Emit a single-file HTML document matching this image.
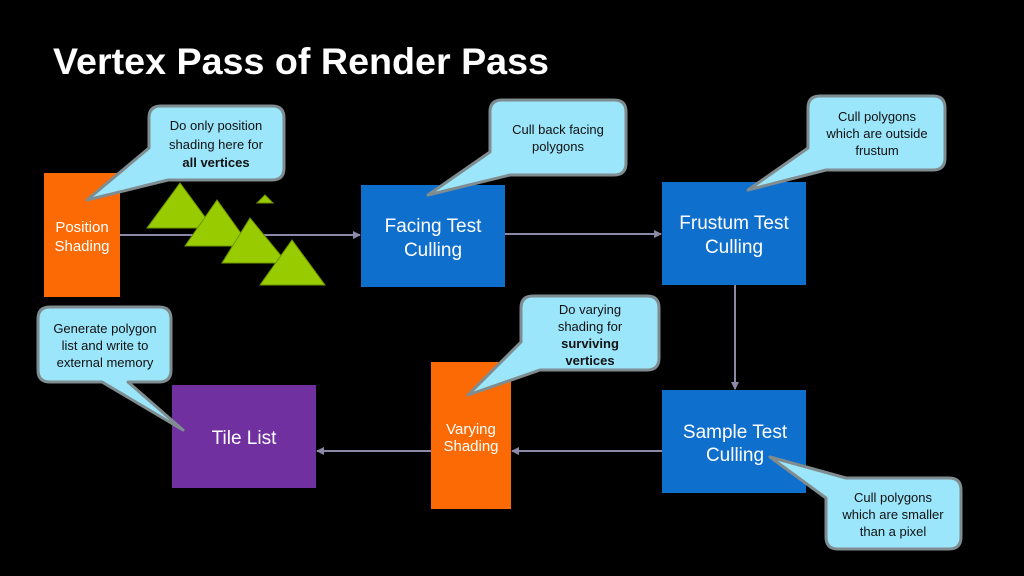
<!DOCTYPE html>
<html><head><meta charset="utf-8"><style>
body{margin:0;background:#000;}
svg{display:block}
text{font-family:"Liberation Sans",sans-serif;}
</style></head><body>
<svg width="1024" height="576" viewBox="0 0 1024 576" xmlns="http://www.w3.org/2000/svg">
<defs>
<marker id="a" markerWidth="8" markerHeight="8" refX="7" refY="4" orient="auto" markerUnits="userSpaceOnUse"><path d="M0,0 L8,4 L0,8 Z" fill="#8a8aa8"/></marker>
</defs>
<rect width="1024" height="576" fill="#000"/>
<text x="53" y="74" font-size="37" font-weight="bold" fill="#fff" textLength="496" lengthAdjust="spacingAndGlyphs">Vertex Pass of Render Pass</text>

<g stroke="#8a8aa8" stroke-width="2" fill="none" marker-end="url(#a)">
<line x1="120" y1="235" x2="360" y2="235"/>
<line x1="505" y1="234" x2="661" y2="234"/>
<line x1="735" y1="285" x2="735" y2="389"/>
<line x1="662" y1="451" x2="512" y2="451"/>
<line x1="431" y1="451" x2="317" y2="451"/>
</g>

<rect x="44" y="173" width="76" height="124" fill="#fb6a04"/>
<text fill="#fff" font-size="15" text-anchor="middle"><tspan x="82" y="232">Position</tspan><tspan x="82" y="251">Shading</tspan></text>

<rect x="361" y="185" width="144" height="102" fill="#0f6fcc"/>
<text fill="#fff" font-size="19" text-anchor="middle"><tspan x="433" y="232">Facing Test</tspan><tspan x="433" y="256">Culling</tspan></text>

<rect x="662" y="182" width="144" height="103" fill="#0f6fcc"/>
<text fill="#fff" font-size="19" text-anchor="middle"><tspan x="734" y="229">Frustum Test</tspan><tspan x="734" y="253">Culling</tspan></text>

<rect x="662" y="390" width="144" height="103" fill="#0f6fcc"/>
<text fill="#fff" font-size="19" text-anchor="middle"><tspan x="735" y="438">Sample Test</tspan><tspan x="735" y="461">Culling</tspan></text>

<rect x="431" y="362" width="80" height="147" fill="#fb6a04"/>
<text fill="#fff" font-size="15" text-anchor="middle"><tspan x="471" y="434">Varying</tspan><tspan x="471" y="451">Shading</tspan></text>

<rect x="172" y="385" width="144" height="103" fill="#7030a0"/>
<text x="244" y="444" fill="#fff" font-size="19" text-anchor="middle">Tile List</text>

<g fill="#99cc00" stroke="#6f9400" stroke-width="1">
<polygon points="180,183 147,228 213,228"/>
<polygon points="217,200 185,246 250,246"/>
<polygon points="250,218 222,263 287,263"/>
<polygon points="292,240 260,285 325,285"/>
<polygon points="265,195 257,203 273,203"/>
</g>

<g fill="#9be6fb" stroke="#7f8c90" stroke-width="3" stroke-linejoin="round">
<path d="M161,106 H272 Q284,106 284,118 V168 Q284,180 272,180 H168 L87,200 L149,148 V118 Q149,106 161,106 Z"/>
<path d="M502,100 H614 Q626,100 626,112 V163 Q626,175 614,175 H510 L428,195 L490,152 V112 Q490,100 502,100 Z"/>
<path d="M820,96 H933 Q945,96 945,108 V158 Q945,170 933,170 H826 L748,190 L808,148 V108 Q808,96 820,96 Z"/>
<path d="M770,457 L846,478 H949 Q961,478 961,490 V537 Q961,549 949,549 H838 Q826,549 826,537 V498 Z"/>
<path d="M533,296 H647 Q659,296 659,308 V358 Q659,370 647,370 H540 L468,395 L521,342 V308 Q521,296 533,296 Z"/>
<path d="M50,307 H159 Q171,307 171,319 V370 Q171,382 159,382 H128 L183,430 L102,382 H50 Q38,382 38,370 V319 Q38,307 50,307 Z"/>
</g>

<g font-size="13" fill="#111" text-anchor="middle">
<text><tspan x="216" y="130">Do only position</tspan><tspan x="216" y="149">shading here for</tspan><tspan x="216" y="167" font-weight="bold">all vertices</tspan></text>
<text><tspan x="558" y="134">Cull back facing</tspan><tspan x="558" y="151">polygons</tspan></text>
<text><tspan x="877" y="121">Cull polygons</tspan><tspan x="877" y="138">which are outside</tspan><tspan x="877" y="155">frustum</tspan></text>
<text><tspan x="893" y="502">Cull polygons</tspan><tspan x="893" y="519">which are smaller</tspan><tspan x="893" y="536">than a pixel</tspan></text>
<text><tspan x="590" y="314">Do varying</tspan><tspan x="590" y="331">shading for</tspan><tspan x="590" y="348" font-weight="bold">surviving</tspan><tspan x="590" y="365" font-weight="bold">vertices</tspan></text>
<text><tspan x="105" y="333">Generate polygon</tspan><tspan x="105" y="350">list and write to</tspan><tspan x="105" y="367">external memory</tspan></text>
</g>
</svg>
</body></html>
